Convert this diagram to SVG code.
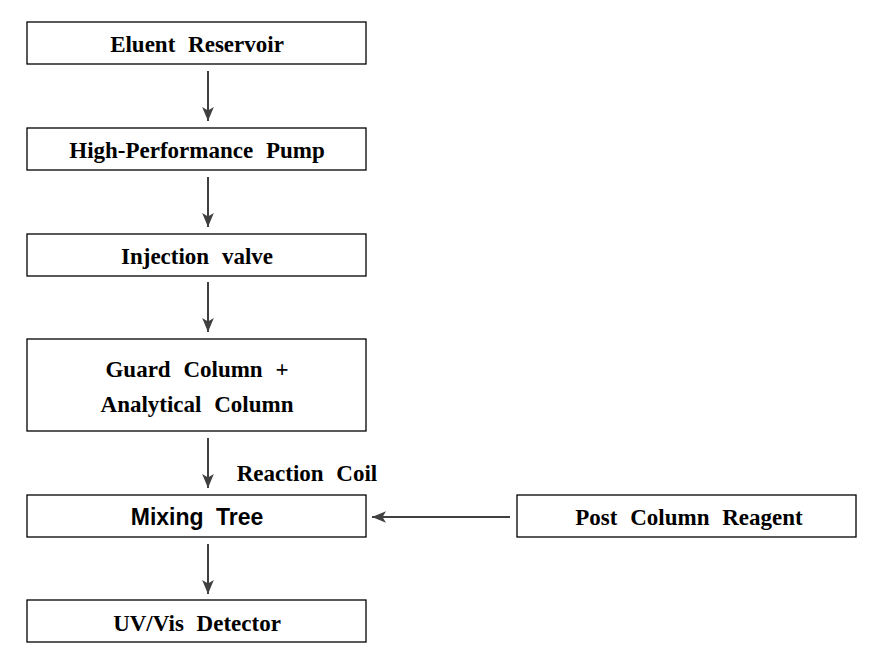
<svg xmlns="http://www.w3.org/2000/svg" width="874" height="651" viewBox="0 0 874 651">
<style>
.box{fill:#fff;stroke:#000;stroke-width:1.3}
.t{font-family:"Liberation Serif","Times New Roman",serif;font-weight:bold;font-size:23px;text-anchor:middle;fill:#000;word-spacing:7px}
.s{font-family:"Liberation Sans",Arial,sans-serif;font-weight:bold;font-size:23px;text-anchor:middle;fill:#000;word-spacing:6px}
.c{stroke:#404040;stroke-width:2;fill:none}
</style>
<defs>
<marker id="ah2" viewBox="0 0 12 10" refX="12" refY="5" markerWidth="14" markerHeight="12" markerUnits="userSpaceOnUse" orient="auto">
<path d="M0,0 L12,5 L0,10 L3,5 Z" fill="#404040"/>
</marker>
</defs>
<rect width="874" height="651" fill="#fff"/>
<g id="connectors">
<line class="c" x1="208" y1="71" x2="208" y2="121" marker-end="url(#ah2)"/>
<line class="c" x1="208" y1="177" x2="208" y2="227" marker-end="url(#ah2)"/>
<line class="c" x1="208" y1="282" x2="208" y2="332" marker-end="url(#ah2)"/>
<line class="c" x1="208" y1="438" x2="208" y2="488" marker-end="url(#ah2)"/>
<line class="c" x1="208" y1="544" x2="208" y2="594" marker-end="url(#ah2)"/>
<line class="c" x1="510" y1="517" x2="372" y2="517" marker-end="url(#ah2)"/>
<text class="t" x="307" y="481">Reaction Coil</text>
</g>
<g id="eluent"><rect class="box" x="27" y="22" width="339" height="42"/><text class="t" x="197" y="52">Eluent Reservoir</text></g>
<g id="pump"><rect class="box" x="27" y="128" width="339" height="42"/><text class="t" x="197" y="158">High-Performance Pump</text></g>
<g id="injection"><rect class="box" x="27" y="234" width="339" height="42"/><text class="t" x="197" y="264">Injection valve</text></g>
<g id="column"><rect class="box" x="27" y="339" width="339" height="92"/><text class="t" x="197" y="377">Guard Column +</text><text class="t" x="197" y="412">Analytical Column</text></g>
<g id="mixing"><rect class="box" x="27" y="495" width="339" height="42"/><text class="s" x="197" y="525">Mixing Tree</text></g>
<g id="detector"><rect class="box" x="27" y="600" width="339" height="42"/><text class="t" x="197" y="631">UV/Vis Detector</text></g>
<g id="reagent"><rect class="box" x="517" y="495" width="339" height="42"/><text class="t" x="689" y="525">Post Column Reagent</text></g>
</svg>
